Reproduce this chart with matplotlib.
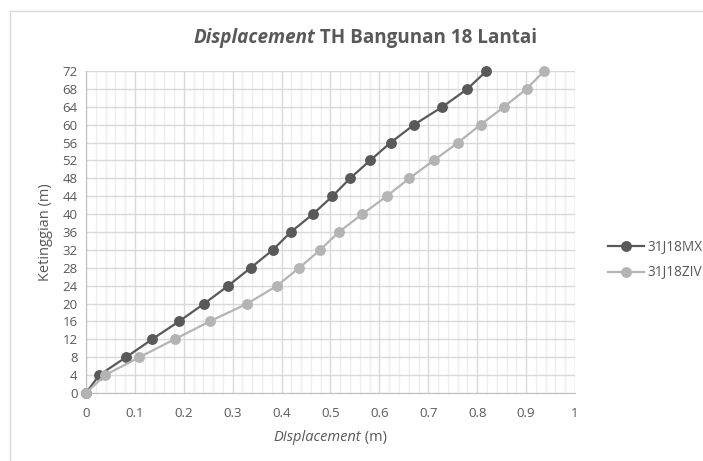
import matplotlib
matplotlib.use("Agg")
import matplotlib.pyplot as plt
from matplotlib.lines import Line2D
from matplotlib.ticker import MultipleLocator

# storey heights (m)
heights = [0, 4, 8, 12, 16, 20, 24, 28, 32, 36, 40, 44, 48, 52, 56, 60, 64, 68, 72]
# displacement (m)
disp_mx = [0, 0.027, 0.082, 0.135, 0.190, 0.242, 0.291, 0.337, 0.382, 0.419,
           0.464, 0.504, 0.540, 0.581, 0.623, 0.671, 0.729, 0.780, 0.819]
disp_ziv = [0, 0.039, 0.109, 0.181, 0.253, 0.330, 0.391, 0.436, 0.479, 0.517,
            0.565, 0.615, 0.661, 0.711, 0.761, 0.807, 0.855, 0.901, 0.937]
series_names = ["31J18MX", "31J18ZIV"]

plt.rcParams["font.family"] = ["Open Sans", "DejaVu Sans"]
TXT = "#595959"
DARK = "#595959"
LIGHT = "#b4b4b4"

W, H = 703, 461
fig = plt.figure(figsize=(W / 100, H / 100), dpi=100)
ax = fig.add_axes([86 / W, 1 - 393 / H, 489 / W, 322 / H])

ax.plot(disp_mx, heights, color=DARK, lw=1.6, marker="o", ms=6.8, zorder=3,
        clip_on=False, label=series_names[0])
ax.plot(disp_ziv, heights, color=LIGHT, lw=1.6, marker="o", ms=6.8, zorder=3,
        clip_on=False, label=series_names[1])

ax.set_xlim(0, 1)
ax.set_ylim(0, 72)
ax.xaxis.set_minor_locator(MultipleLocator(0.02))
ax.yaxis.set_major_locator(MultipleLocator(4))
ax.set_xticks([i / 10 for i in range(11)])
ax.set_xticklabels(["0", "0.1", "0.2", "0.3", "0.4", "0.5", "0.6", "0.7", "0.8", "0.9", "1"])
ax.grid(which="major", color="#d9d9d9", lw=1.0, zorder=0)
ax.grid(which="minor", axis="x", color="#eeeeee", lw=1.0, zorder=0)
ax.set_axisbelow(True)
for side in ["top", "right"]:
    ax.spines[side].set_visible(False)
ax.spines["left"].set_color("#bfbfbf")
ax.spines["bottom"].set_color("#bfbfbf")
ax.tick_params(which="both", length=0, labelsize=9.5, labelcolor=TXT)
ax.tick_params(axis="x", pad=10)
ax.tick_params(axis="y", pad=6)

ax.set_ylabel("Ketinggian (m)", fontsize=10.5, color=TXT, labelpad=7)

# title and x label mix italic and normal parts
fig.canvas.draw()
r = fig.canvas.get_renderer()


def two_part(x_center, y, first, second, size, weight):
    t1 = fig.text(0, y, first, fontsize=size, style="italic", weight=weight,
                  color=TXT, ha="left", va="center")
    t2 = fig.text(0, y, second, fontsize=size, weight=weight,
                  color=TXT, ha="left", va="center")
    w1 = t1.get_window_extent(r).width / W
    w2 = t2.get_window_extent(r).width / W
    x0 = x_center - (w1 + w2) / 2
    t1.set_x(x0)
    t2.set_x(x0 + w1)


two_part(365 / W, 1 - 38 / H, "Displacement", " TH Bangunan 18 Lantai", 13.6, "bold")
two_part(330 / W, 1 - 437 / H, "DIsplacement", " (m)", 10.5, "normal")

handles = [Line2D([], [], color=DARK, lw=1.6, marker="o", ms=6.8),
           Line2D([], [], color=LIGHT, lw=1.6, marker="o", ms=6.8)]
leg = fig.legend(handles, series_names, loc="center left",
                 bbox_to_anchor=(596 / W, 1 - 260 / H), frameon=False,
                 fontsize=9.8, handlelength=2.6, handletextpad=0.3, labelspacing=0.8)
for t in leg.get_texts():
    t.set_color(TXT)

# chart frame (top and left edges visible in the crop)
fig.add_artist(Line2D([10 / W, 10 / W], [0, 1 - 11 / H], color="#d9d9d9", lw=1.0))
fig.add_artist(Line2D([10 / W, 1], [1 - 11 / H, 1 - 11 / H], color="#d9d9d9", lw=1.0))

fig.savefig("out.png", dpi=100)
